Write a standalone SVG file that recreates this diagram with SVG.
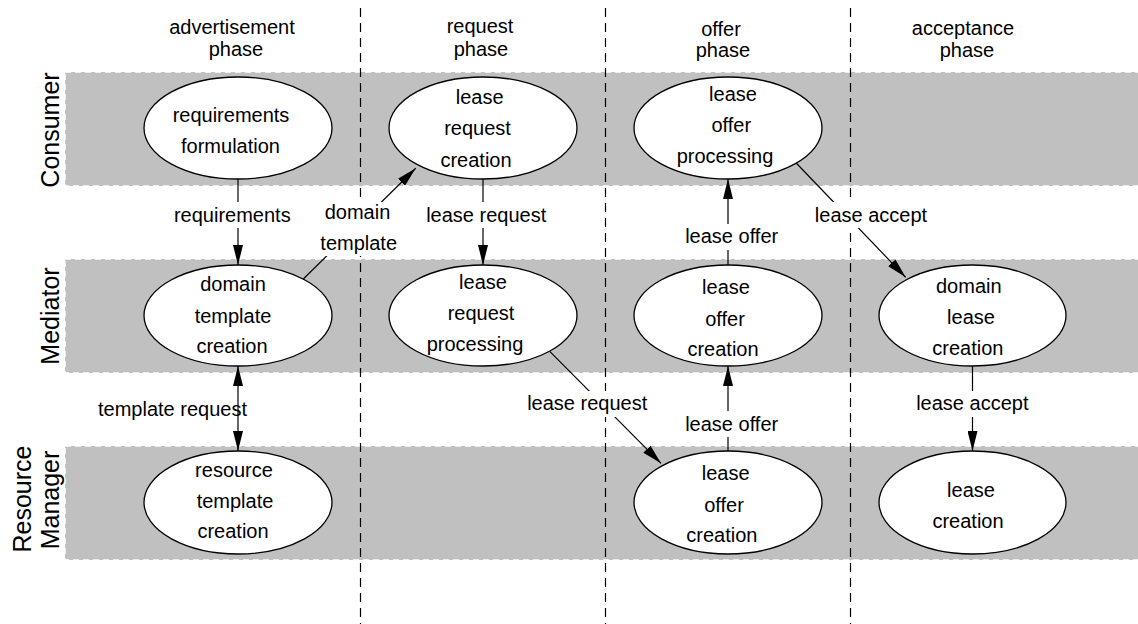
<svg xmlns="http://www.w3.org/2000/svg" width="1138" height="624" viewBox="0 0 1138 624">
<style>
text{font-family:"Liberation Sans",Arial,sans-serif;font-size:20px;fill:#000;text-anchor:middle}
.lane{fill:#c0c0c0;stroke:#fff;stroke-width:1.5;stroke-dasharray:6 4}
.lanelbl{font-size:25px}
.phase{stroke:#000;stroke-width:1.2;stroke-dasharray:9 6;fill:none}
.node ellipse{fill:#fff;stroke:#000;stroke-width:1.3}
.conn{stroke:#000;stroke-width:1.2;fill:none}
.bg{fill:#fff}
</style>
<defs>
<marker id="ah" markerUnits="userSpaceOnUse" markerWidth="20" markerHeight="10" refX="20" refY="5" orient="auto-start-reverse" viewBox="0 0 20 10">
<path d="M0,0 L20,5 L0,10 z" fill="#000"/>
</marker>
</defs>
<rect width="1138" height="624" fill="#fff"/>
<g id="lanes">
<rect class="lane" x="65" y="72" width="1080" height="114"/>
<rect class="lane" x="65" y="259" width="1080" height="114"/>
<rect class="lane" x="65" y="446" width="1080" height="114"/>
<text class="lanelbl" transform="translate(59,130) rotate(-90)">Consumer</text>
<text class="lanelbl" transform="translate(59,316) rotate(-90)">Mediator</text>
<text class="lanelbl" transform="translate(31,499) rotate(-90)">Resource</text>
<text class="lanelbl" transform="translate(59,500) rotate(-90)">Manager</text>
</g>
<g id="phases">
<line class="phase" x1="360.5" y1="8" x2="360.5" y2="624"/>
<line class="phase" x1="605.5" y1="8" x2="605.5" y2="624"/>
<line class="phase" x1="850.5" y1="8" x2="850.5" y2="624"/>
<text x="232" y="34">advertisement</text>
<text x="236" y="56">phase</text>
<text x="480" y="33">request</text>
<text x="481" y="55.5">phase</text>
<text x="721" y="36">offer</text>
<text x="723" y="57">phase</text>
<text x="963" y="34.5">acceptance</text>
<text x="967" y="56.5">phase</text>
</g>
<g id="connectors">
<text x="172.5" y="416">template request</text>
<path class="conn" d="M238,179 L238,265" marker-end="url(#ah)"/>
<path class="conn" d="M303.3,279 L415.7,168.3" marker-end="url(#ah)"/>
<path class="conn" d="M483,179 L483,265" marker-end="url(#ah)"/>
<path class="conn" d="M550,351.7 L661,463.3" marker-end="url(#ah)"/>
<path class="conn" d="M728,265 L728,179" marker-end="url(#ah)"/>
<path class="conn" d="M728,452 L728,366" marker-end="url(#ah)"/>
<path class="conn" d="M793.3,160 L905.7,277.3" marker-end="url(#ah)"/>
<path class="conn" d="M972.5,365 L972.5,451" marker-end="url(#ah)"/>
<path class="conn" d="M238,366 L238,451" marker-start="url(#ah)" marker-end="url(#ah)"/>
<rect class="bg" x="172" y="202" width="121" height="26"/>
<text x="232.3" y="221.7">requirements</text>
<rect class="bg" x="319" y="202" width="80" height="54"/>
<text x="357.5" y="219.3">domain</text>
<text x="358.7" y="250">template</text>
<rect class="bg" x="426" y="202" width="121" height="26"/>
<text x="486.2" y="221.7">lease request</text>
<rect class="bg" x="683" y="224" width="97" height="26"/>
<text x="731.7" y="243.3">lease offer</text>
<rect class="bg" x="813" y="202" width="116" height="26"/>
<text x="871" y="221.7">lease accept</text>
<rect class="bg" x="527" y="391" width="121" height="26"/>
<text x="587.2" y="410">lease request</text>
<rect class="bg" x="683" y="411" width="97" height="26"/>
<text x="731.7" y="430.7">lease offer</text>
<rect class="bg" x="914" y="391" width="117" height="26"/>
<text x="972.3" y="410">lease accept</text>
</g>
<g id="n1" class="node"><ellipse cx="238" cy="128" rx="94" ry="51"/><text x="231" y="121.7">requirements</text><text x="230.5" y="152.7">formulation</text></g>
<g id="n2" class="node"><ellipse cx="483" cy="128" rx="94" ry="51"/><text x="479.7" y="104">lease</text><text x="477.5" y="135">request</text><text x="476" y="166.7">creation</text></g>
<g id="n3" class="node"><ellipse cx="728" cy="128" rx="94" ry="51"/><text x="733" y="101">lease</text><text x="731.3" y="132">offer</text><text x="725" y="163">processing</text></g>
<g id="n4" class="node"><ellipse cx="238" cy="315.5" rx="94" ry="50.5"/><text x="233" y="291">domain</text><text x="233" y="322.7">template</text><text x="232" y="353">creation</text></g>
<g id="n5" class="node"><ellipse cx="483" cy="315.5" rx="94" ry="50.5"/><text x="483" y="289.3">lease</text><text x="481" y="320">request</text><text x="475" y="350.7">processing</text></g>
<g id="n6" class="node"><ellipse cx="728" cy="315.5" rx="94" ry="50.5"/><text x="726" y="294">lease</text><text x="725" y="325.7">offer</text><text x="723" y="356">creation</text></g>
<g id="n7" class="node"><ellipse cx="972.5" cy="315.5" rx="93.5" ry="50.5"/><text x="968.8" y="292.7">domain</text><text x="971" y="324.3">lease</text><text x="967.8" y="355">creation</text></g>
<g id="n8" class="node"><ellipse cx="238" cy="502.5" rx="94" ry="51.5"/><text x="234" y="476.7">resource</text><text x="235" y="508.3">template</text><text x="233" y="538.3">creation</text></g>
<g id="n9" class="node"><ellipse cx="728" cy="502.5" rx="94" ry="51.5"/><text x="725.7" y="480">lease</text><text x="724" y="511.7">offer</text><text x="721.8" y="542.3">creation</text></g>
<g id="n10" class="node"><ellipse cx="972.5" cy="502.5" rx="93.5" ry="51.5"/><text x="971" y="497.3">lease</text><text x="968" y="528.3">creation</text></g>
</svg>
